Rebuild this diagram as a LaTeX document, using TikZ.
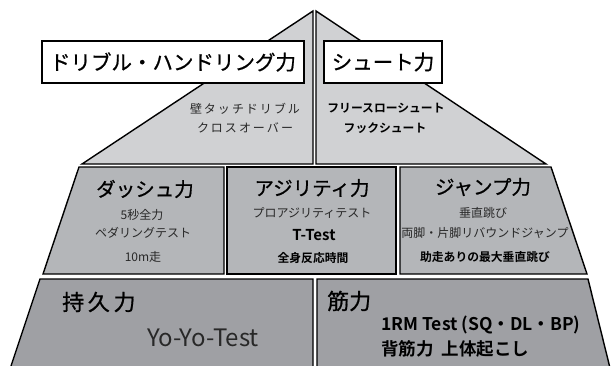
\documentclass[tikz,border=0pt]{standalone}
\usepackage{fontspec}
\setmainfont{Noto Sans CJK JP}[BoldFont={Noto Sans CJK JP Bold}]
\newfontfamily\titlefont{Noto Sans CJK JP}[FakeBold=0.8]
\begin{document}
\begin{tikzpicture}[x=1pt,y=-1pt,
  tier/.style={draw=black,line width=1.4pt,line join=miter},
  topfill/.style={tier,fill=topgray},
  midfill/.style={tier,fill=midgray},
  botfill/.style={tier,fill=botgray},
  titlebox/.style={draw=black,line width=1.5pt,fill=white,inner sep=0pt,font=\titlefont\fontsize{20.5}{22}\selectfont},
  bigtitle/.style={inner sep=0pt,font=\titlefont\fontsize{19.5}{21}\selectfont},
  small/.style={inner sep=0pt,text=txtgray,font=\fontsize{12}{13}\selectfont},
  smallb/.style={inner sep=0pt,text=black,font=\fontsize{11.8}{13}\selectfont\bfseries},
  midb/.style={inner sep=0pt,text=black,font=\fontsize{17.5}{19}\selectfont\bfseries}]
\definecolor{topgray}{RGB}{208,209,211}
\definecolor{midgray}{RGB}{180,182,185}
\definecolor{botgray}{RGB}{159,160,164}
\definecolor{txtgray}{RGB}{40,40,40}
\useasboundingbox (0,0) rectangle (613,365);
\begin{scope}
\clip (0,0) rectangle (613,365);
% top tier
\draw[topfill] (313,11) -- (313,164) -- (82,164) -- cycle;
\draw[topfill] (316,11) -- (546,164) -- (316,164) -- cycle;
% middle tier
\draw[midfill] (79,167) -- (224,167) -- (224,274) -- (43,274) -- cycle;
\draw[midfill] (227,167) -- (396,167) -- (396,274) -- (227,274) -- cycle;
\draw[midfill] (400,167) -- (551,167) -- (587,274) -- (400,274) -- cycle;
% bottom tier
\draw[botfill] (40,279) -- (313,279) -- (313,372) -- (9,372) -- cycle;
\draw[botfill] (317,279) -- (588,279) -- (611,372) -- (317,372) -- cycle;
\end{scope}
% title boxes
\node[titlebox,minimum width=262pt,minimum height=42pt] (drib) at (173,62) {ドリブル・ハンドリング力};
\node[titlebox,minimum width=118pt,minimum height=42pt] (shoot) at (383,62) {シュート力};
\node[small] (d1) at (245,109) {壁\,タ\,ッ\,チ\,ド\,リ\,ブ\,ル};
\node[small] (d2) at (245,128) {ク\,ロ\,ス\,オ\,ー\,バ\,ー};
\node[smallb] (s1) at (386,108) {フリースローシュート};
\node[smallb] (s2) at (385,128) {フックシュート};
% middle
\node[bigtitle] (dash) at (145,189) {ダッシュ力};
\node[small] (da1) at (142,215) {5秒全力};
\node[small] (da2) at (143,233) {ペダリングテスト};
\node[small] (da3) at (143,257) {10m走};
\node[bigtitle] (agi) at (312,188) {アジリティ力};
\node[small] (a1) at (312,213) {プロアジリティテスト};
\node[smallb,font=\fontsize{15}{16}\selectfont\bfseries] (a2) at (314,235) {T-Test};
\node[smallb] (a3) at (313,258) {全身反応時間};
\node[bigtitle] (jump) at (483,187) {ジャンプ力};
\node[small] (j1) at (483,213) {垂直跳び};
\node[small] (j2) at (485,233) {両脚・片脚リバウンドジャンプ};
\node[smallb] (j3) at (485,257) {助走ありの最大垂直跳び};
% bottom
\node[inner sep=0pt,font=\titlefont\fontsize{22}{24}\selectfont,anchor=west] (end) at (62,302) {持\,久\,力};
\node[inner sep=0pt,font=\fontsize{24}{26}\selectfont,text=txtgray] (yoyo) at (203,338) {Yo-Yo-Test};
\node[inner sep=0pt,font=\titlefont\fontsize{22}{24}\selectfont,anchor=west] (str) at (327,301) {筋力};
\node[midb,anchor=west] (st1) at (381,325) {1RM Test (SQ・DL・BP)};
\node[midb,anchor=west] (st2) at (381,349) {背筋力\ \ 上体起こし};
\end{tikzpicture}
\end{document}
